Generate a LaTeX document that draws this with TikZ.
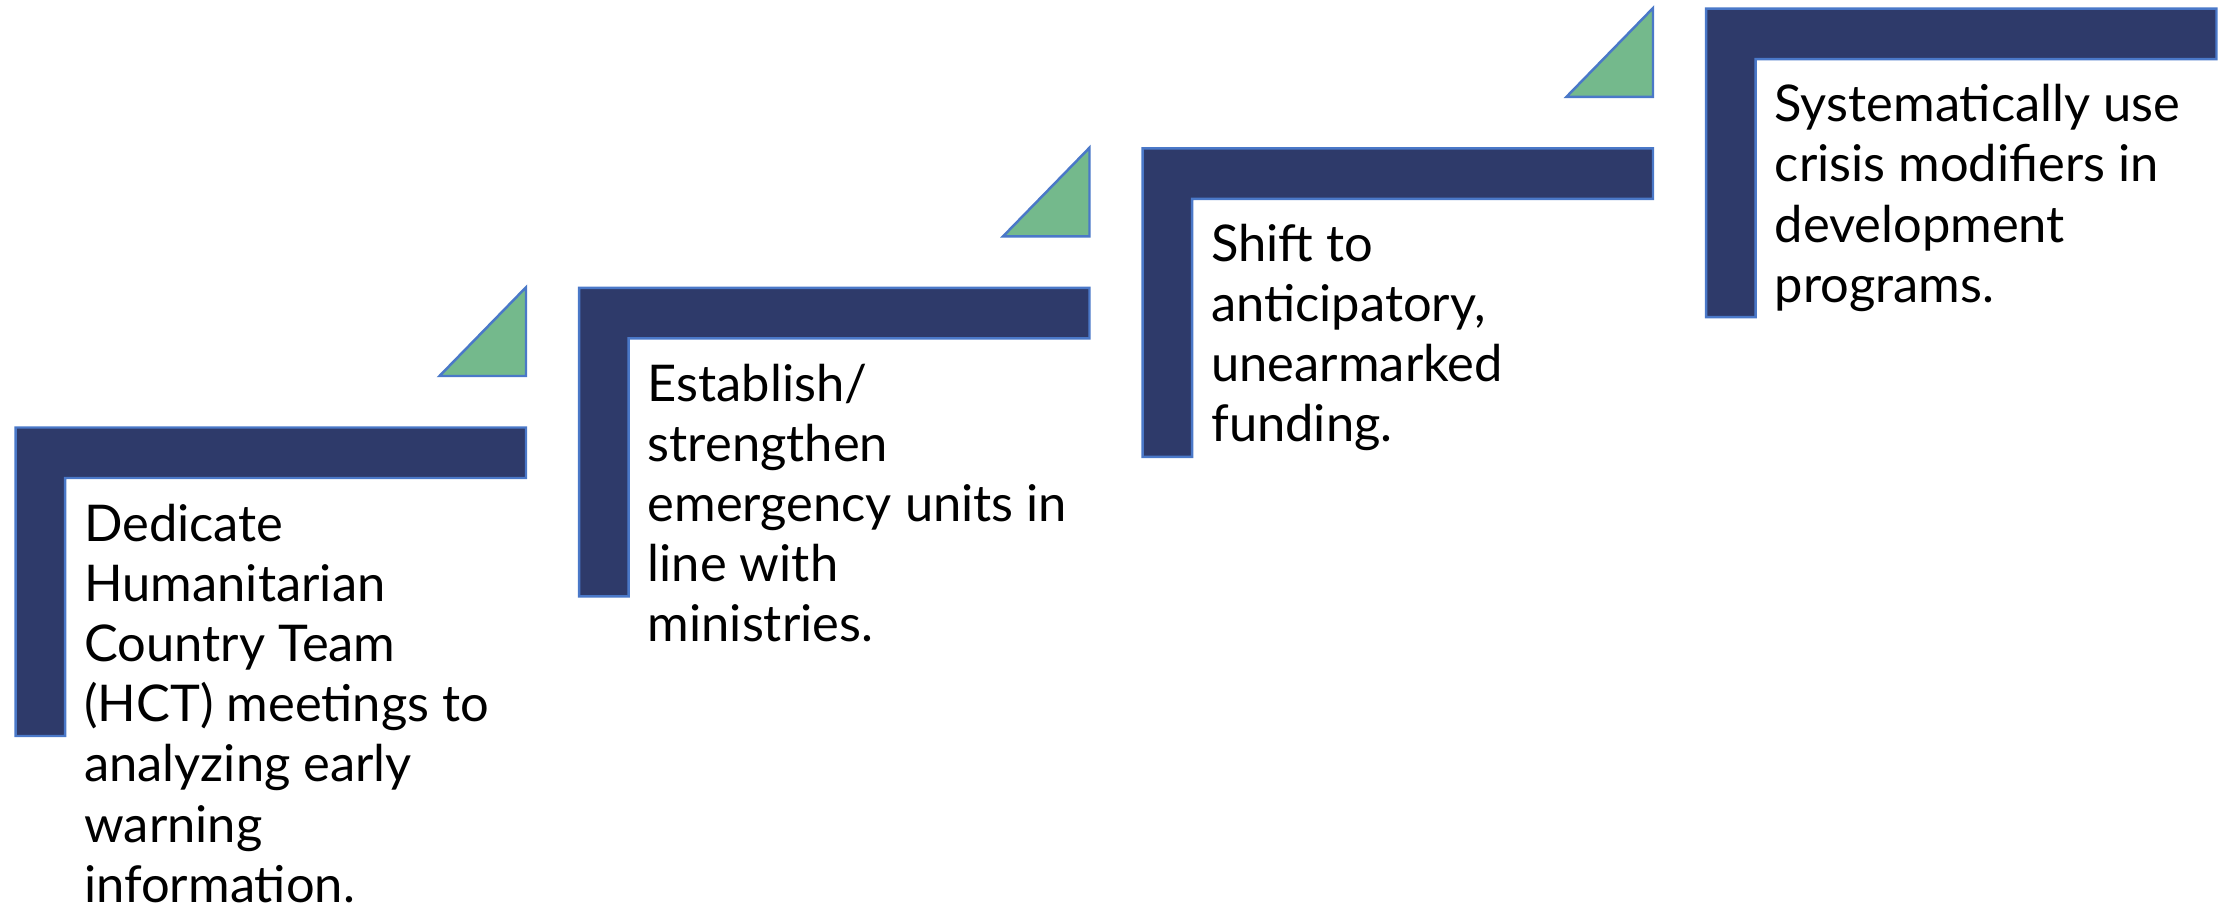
\documentclass[tikz,border=0pt]{standalone}
\usepackage{fontspec}
\setmainfont{Lato}
\usetikzlibrary{positioning}
\definecolor{stepnavy}{HTML}{2E3A6A}
\definecolor{stepedge}{HTML}{4A78C8}
\definecolor{stepgreen}{HTML}{74B98C}

\begin{document}
\begin{tikzpicture}[
  x=0.01cm,y=-0.01cm,
  bracket/.style={fill=stepnavy, draw=stepedge, line width=.7pt},
  wedge/.style={fill=stepgreen, draw=stepedge, line width=.7pt},
  steptext/.style={anchor=base west, align=left, inner sep=0pt, font=\fontsize{14.4}{17.12}\selectfont},
]
\useasboundingbox (0,0) rectangle (2223,907);

% four steps, each one up and to the right of the last
% (base anchor of a multi-line node sits on its last line)
\foreach \k/\n/\lines in {
  1/7/{Dedicate\\Humanitarian\\Country Team\\(HCT) meetings to\\analyzing early\\warning\\information.},
  2/5/{Establish/\\strengthen\\emergency units in\\line with\\ministries.},
  3/4/{Shift to\\anticipatory,\\unearmarked\\funding.},
  4/4/{Systematically use\\crisis modifiers in\\development\\programs.}}{
  \begin{scope}[shift={(563.5*\k-563.5,-139.6*\k+139.6)}]
    \coordinate (corner\k) at (15.6,427.5);
    \filldraw[bracket] (corner\k) -- ++(510.4,0) -- ++(0,50.5) -- ++(-460.8,0) -- ++(0,258) -- ++(-49.6,0) -- cycle;
    \filldraw[wedge] (526,376) -- (439.5,376) -- (526,287.3) -- cycle;
    \node[steptext] (txt\k) at ([shift={(68,112.5+60.4*\n-60.4)}]corner\k) {\lines};
  \end{scope}
}
\end{tikzpicture}
\end{document}
